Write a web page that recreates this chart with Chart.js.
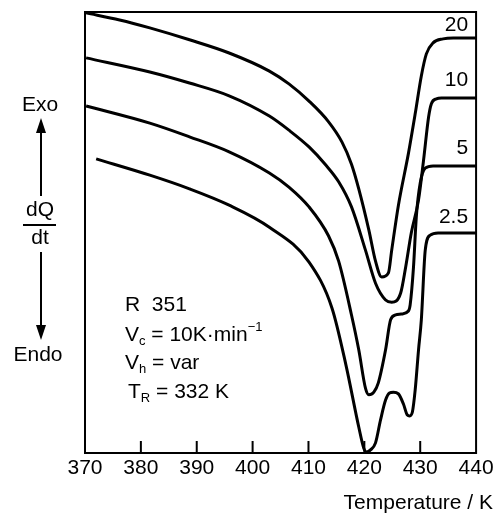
<!DOCTYPE html>
<html>
<head>
<meta charset="utf-8">
<title>DSC heating curves R 351</title>
<script src="https://cdn.jsdelivr.net/npm/chart.js@4.4.1/dist/chart.umd.min.js"></script>
<style>
    html, body { margin: 0; padding: 0; background: #fff; }
    #wrap { width: 496px; height: 513px; }
</style>
</head>
<body>
<div id="wrap"><canvas id="dscChart"></canvas></div>
<script>
// heating rate 20 K/min
const temp20 = [370.2, 376.2, 381.6, 388.7, 395.8, 403.0, 406.5, 410.1, 413.6, 416.0, 417.7, 419.0, 420.8, 422.0, 423.1, 424.3, 424.9, 426.1, 427.9, 429.1, 430.2, 431.1, 432.3, 434.1, 435.9, 440.0];
const flow20 = [99.8, 98.2, 96.4, 93.7, 90.7, 86.6, 83.7, 79.8, 75.1, 70.5, 65.5, 59.9, 50.6, 43.5, 39.9, 40.8, 46.0, 56.2, 68.0, 76.9, 85.5, 90.5, 93.0, 93.9, 94.1, 94.1];

// heating rate 10 K/min
const temp10 = [370.2, 381.6, 388.7, 395.8, 403.0, 406.5, 410.1, 413.1, 415.4, 417.7, 420.2, 422.0, 423.8, 424.9, 426.5, 427.4, 428.4, 429.7, 430.6, 431.5, 432.0, 432.9, 433.8, 440.0];
const flow10 = [89.6, 86.4, 83.9, 81.0, 76.4, 73.2, 69.4, 65.3, 61.5, 55.8, 46.0, 38.5, 34.7, 34.2, 36.3, 42.2, 49.9, 57.4, 66.4, 76.2, 79.2, 80.3, 80.5, 80.5];

// heating rate 5 K/min
const temp5 = [370.2, 381.6, 388.7, 395.8, 403.0, 406.5, 410.1, 413.6, 415.4, 417.7, 419.0, 420.2, 420.8, 421.7, 422.5, 423.8, 424.7, 425.6, 426.6, 427.9, 428.2, 428.8, 429.3, 430.0, 430.9, 432.3, 440.0];
const flow5 = [78.7, 74.8, 71.7, 68.3, 63.5, 60.3, 55.8, 49.2, 43.5, 31.3, 23.4, 14.7, 13.2, 13.8, 15.9, 23.4, 30.2, 31.3, 31.5, 32.2, 33.6, 42.2, 53.5, 61.2, 64.6, 65.1, 65.1];

// heating rate 2.5 K/min
const temp25 = [372.0, 381.6, 388.7, 395.8, 403.0, 410.1, 414.2, 416.7, 419.0, 419.9, 420.4, 421.1, 422.0, 422.9, 423.8, 424.5, 425.2, 426.1, 427.0, 427.7, 428.1, 428.6, 429.1, 429.7, 430.2, 430.9, 431.8, 433.2, 440.0];
const flow25 = [66.7, 63.0, 59.9, 56.2, 51.2, 43.3, 32.9, 20.0, 5.9, 1.1, 0.2, 0.7, 2.3, 7.5, 12.0, 13.6, 13.8, 13.4, 11.1, 8.6, 8.4, 9.3, 14.3, 23.4, 30.2, 46.0, 49.4, 49.9, 49.9];

const rateLabels = ['20', '10', '5', '2.5'];
const tempTicks = [380, 390, 400, 410, 420, 430];

const FONT = '"Liberation Sans", Arial, sans-serif';

document.addEventListener('DOMContentLoaded', function () {
    const ctx = document.getElementById('dscChart');
    const series = [[temp20, flow20], [temp10, flow10], [temp5, flow5], [temp25, flow25]];
    const datasets = series.map(function (s, i) {
        return {
            label: rateLabels[i],
            data: s[0].map((t, k) => ({x: t, y: s[1][k]})),
            borderColor: '#000',
            borderWidth: 3,
            pointRadius: 0,
            fill: false,
            cubicInterpolationMode: 'monotone'
        };
    });

    new Chart(ctx, {
        type: 'line',
        data: {datasets: datasets},
        options: {
            responsive: true,
            maintainAspectRatio: false,
            animation: false,
            devicePixelRatio: 1,
            layout: {padding: {left: 85, right: 18, top: 12, bottom: 30}},
            plugins: {legend: {display: false}, tooltip: {enabled: false}},
            scales: {
                x: {
                    type: 'linear',
                    min: 370,
                    max: 440,
                    grid: {display: false, drawTicks: false},
                    border: {display: false},
                    ticks: {
                        stepSize: 10,
                        padding: 2.4,
                        color: '#000',
                        autoSkip: false,
                        maxRotation: 0,
                        font: {family: FONT, size: 21}
                    }
                },
                y: {display: false, min: 0, max: 100}
            }
        },
        plugins: [frameAndNotes]
    });
});

function drawRuns(c, x, y, runs) {
    runs.forEach(function (r) {
        let size = 21, dy = 0;
        if (r.sub) { size = 13; dy = 6; }
        if (r.sup) { size = 13; dy = -8; }
        c.font = size + 'px ' + FONT;
        c.fillText(r.t, x, y + dy);
        x += c.measureText(r.t).width;
    });
}

function drawArrow(c, x, yFrom, yTip) {
    const dir = yTip < yFrom ? 1 : -1;
    c.beginPath();
    c.moveTo(x, yFrom);
    c.lineTo(x, yTip + dir * 12);
    c.stroke();
    c.beginPath();
    c.moveTo(x, yTip);
    c.lineTo(x - 5, yTip + dir * 15);
    c.lineTo(x + 5, yTip + dir * 15);
    c.closePath();
    c.fill();
}

const frameAndNotes = {
    id: 'frameAndNotes',
    afterDraw(chart) {
        const c = chart.ctx;
        const a = chart.chartArea;
        const xs = chart.scales.x;
        const ys = chart.scales.y;
        c.save();
        c.strokeStyle = '#000';
        c.fillStyle = '#000';
        c.lineWidth = 2;
        c.strokeRect(a.left, a.top, a.right - a.left, a.bottom - a.top);

        // inward ticks
        tempTicks.forEach(function (t) {
            const px = xs.getPixelForValue(t);
            c.beginPath();
            c.moveTo(px, a.bottom);
            c.lineTo(px, a.bottom - 12);
            c.stroke();
        });

        // rate labels above each plateau
        const ends = [flow20, flow10, flow5, flow25];
        const lift = [13, 18, 18, 16];
        c.font = '21px ' + FONT;
        c.textAlign = 'right';
        c.textBaseline = 'middle';
        rateLabels.forEach(function (lab, i) {
            const v = ends[i][ends[i].length - 1];
            c.fillText(lab, a.right - 8, ys.getPixelForValue(v) - lift[i]);
        });

        c.fillText('Temperature / K', 493, 503);

        // Exo / Endo axis note
        c.textAlign = 'center';
        c.fillText('Exo', 40, 105);
        c.fillText('dQ', 40, 210);
        c.fillText('dt', 40, 238);
        c.fillText('Endo', 38, 355);
        c.beginPath();
        c.moveTo(23, 225);
        c.lineTo(56, 225);
        c.stroke();
        drawArrow(c, 41, 196, 118);
        drawArrow(c, 41, 252, 340);

        // sample info
        c.textAlign = 'left';
        drawRuns(c, 125, 305, [{t: 'R  351'}]);
        drawRuns(c, 125, 335, [{t: 'V'}, {t: 'c', sub: true}, {t: ' = 10K\u00b7min'}, {t: '\u22121', sup: true}]);
        drawRuns(c, 125, 363, [{t: 'V'}, {t: 'h', sub: true}, {t: ' = var'}]);
        drawRuns(c, 128, 392, [{t: 'T'}, {t: 'R', sub: true}, {t: ' = 332 K'}]);
        c.restore();
    }
};
</script>
</body>
</html>
